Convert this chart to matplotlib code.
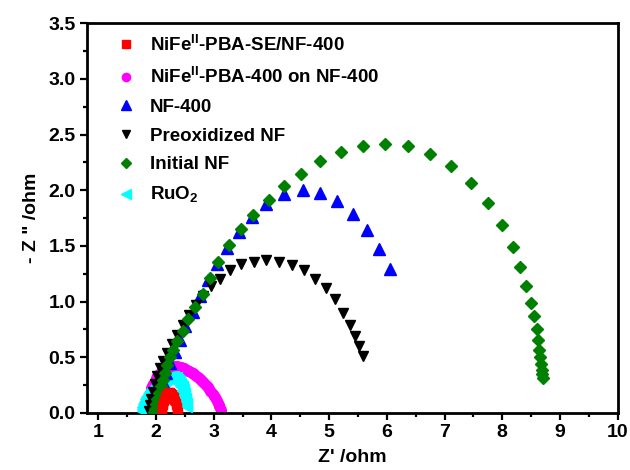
import matplotlib
matplotlib.use('Agg')
import matplotlib.pyplot as plt
from matplotlib.ticker import MultipleLocator, FormatStrFormatter

plt.rcParams['font.family'] = ['Liberation Sans', 'DejaVu Sans']
plt.rcParams['font.weight'] = 'bold'
plt.rcParams['mathtext.fontset'] = 'custom'
plt.rcParams['mathtext.rm'] = 'Liberation Sans'
plt.rcParams['mathtext.bf'] = 'Liberation Sans:bold'

# NiFe(II)-PBA-SE/NF-400 (red squares)
se_x = [2.10, 2.105, 2.11, 2.12, 2.13, 2.14, 2.15, 2.165, 2.18, 2.195, 2.21, 2.225, 2.24, 2.255, 2.27,
        2.285, 2.30, 2.31, 2.32, 2.33, 2.34, 2.35, 2.36, 2.37, 2.38]
se_y = [0.01, 0.03, 0.05, 0.07, 0.09, 0.11, 0.13, 0.145, 0.16, 0.17, 0.18, 0.185, 0.185, 0.18, 0.175,
        0.165, 0.15, 0.14, 0.12, 0.11, 0.09, 0.07, 0.05, 0.03, 0.01]

# NiFe(II)-PBA-400 on NF-400 (magenta circles)
pba_x = [1.86, 1.865, 1.87, 1.88, 1.89, 1.90, 1.91, 1.92, 1.935, 1.95, 1.965, 1.98, 2.00, 2.02, 2.04,
         2.06, 2.08, 2.10, 2.12, 2.14, 2.16, 2.18, 2.20, 2.22, 2.24, 2.26, 2.28, 2.30, 2.32, 2.34,
         2.36, 2.38, 2.40, 2.42, 2.44, 2.46, 2.48, 2.50, 2.52, 2.54, 2.56, 2.58, 2.60, 2.62, 2.64,
         2.66, 2.68, 2.70, 2.72, 2.74, 2.76, 2.78, 2.80, 2.82, 2.84, 2.86, 2.88, 2.90, 2.92, 2.94,
         2.96, 2.98, 3.00, 3.02, 3.04, 3.06, 3.075, 3.09, 3.10, 3.11, 3.12]
pba_y = [0.08, 0.10, 0.12, 0.14, 0.16, 0.18, 0.20, 0.22, 0.24, 0.26, 0.27, 0.29, 0.31, 0.33, 0.34,
         0.35, 0.365, 0.375, 0.385, 0.395, 0.40, 0.405, 0.41, 0.415, 0.415, 0.42, 0.42, 0.42, 0.42, 0.42,
         0.42, 0.415, 0.415, 0.41, 0.41, 0.405, 0.40, 0.395, 0.39, 0.385, 0.38, 0.375, 0.37, 0.36, 0.355,
         0.35, 0.34, 0.33, 0.325, 0.315, 0.305, 0.295, 0.285, 0.275, 0.265, 0.255, 0.24, 0.23, 0.215, 0.20,
         0.185, 0.17, 0.155, 0.14, 0.125, 0.11, 0.09, 0.075, 0.06, 0.045, 0.03]

# NF-400 (blue triangles)
nf400_x = [1.95, 1.97, 2.00, 2.03, 2.07, 2.12, 2.18, 2.25, 2.33, 2.42, 2.51, 2.64, 2.77, 2.91, 3.05,
           3.23, 3.44, 3.67, 3.91, 4.21, 4.54, 4.84, 5.14, 5.42, 5.66, 5.87, 6.05]
nf400_y = [0.02, 0.05, 0.10, 0.15, 0.21, 0.28, 0.36, 0.45, 0.55, 0.66, 0.78, 0.91, 1.05, 1.19, 1.34,
           1.48, 1.63, 1.76, 1.88, 1.97, 2.00, 1.98, 1.90, 1.79, 1.64, 1.47, 1.29]

# Preoxidized NF (black down triangles)
pre_x = [1.88, 1.90, 1.92, 1.95, 1.98, 2.02, 2.07, 2.13, 2.20, 2.28, 2.37, 2.47, 2.58, 2.70, 2.82, 2.96,
         3.11, 3.29, 3.48, 3.70, 3.91, 4.14, 4.36, 4.56, 4.76, 4.95, 5.11, 5.24, 5.36, 5.44, 5.52, 5.59]
pre_y = [0.02, 0.07, 0.13, 0.19, 0.26, 0.33, 0.40, 0.47, 0.54, 0.62, 0.70, 0.79, 0.88, 0.97, 1.05, 1.14,
         1.20, 1.28, 1.34, 1.36, 1.37, 1.36, 1.33, 1.28, 1.20, 1.12, 1.02, 0.90, 0.79, 0.69, 0.60, 0.51]

# Initial NF (green diamonds)
ini_x = [1.97, 1.98, 2.00, 2.02, 2.05, 2.08, 2.12, 2.16, 2.20, 2.25, 2.30, 2.37, 2.46, 2.56, 2.68, 2.81,
         2.93, 3.08, 3.27, 3.48, 3.69, 3.95, 4.21, 4.52, 4.84, 5.20, 5.58, 5.97, 6.36, 6.75, 7.11, 7.46,
         7.75, 7.99, 8.18, 8.31, 8.41, 8.49, 8.55, 8.60, 8.62, 8.64, 8.66, 8.67, 8.68, 8.69, 8.70]
ini_y = [0.01, 0.04, 0.08, 0.13, 0.18, 0.24, 0.30, 0.36, 0.43, 0.50, 0.57, 0.65, 0.74, 0.84, 0.95, 1.07,
         1.21, 1.36, 1.51, 1.65, 1.78, 1.91, 2.04, 2.15, 2.26, 2.34, 2.40, 2.42, 2.40, 2.33, 2.22, 2.07,
         1.89, 1.69, 1.49, 1.31, 1.14, 0.99, 0.87, 0.75, 0.66, 0.57, 0.50, 0.44, 0.39, 0.35, 0.31]

# RuO2 (cyan left triangles)
ru_x = [1.77, 1.775, 1.78, 1.79, 1.80, 1.81, 1.82, 1.835, 1.85, 1.865, 1.88, 1.90, 1.92, 1.94, 1.96,
        1.98, 2.00, 2.02, 2.04, 2.06, 2.08, 2.10, 2.12, 2.14, 2.16, 2.18, 2.20, 2.22, 2.24, 2.26,
        2.28, 2.30, 2.32, 2.34, 2.36, 2.38, 2.40, 2.42, 2.435, 2.45, 2.46, 2.47, 2.48, 2.49, 2.50,
        2.51, 2.515, 2.52]
ru_y = [0.02, 0.035, 0.05, 0.065, 0.08, 0.095, 0.11, 0.125, 0.14, 0.155, 0.17, 0.185, 0.20, 0.215, 0.225,
        0.235, 0.245, 0.255, 0.265, 0.275, 0.28, 0.29, 0.295, 0.30, 0.305, 0.31, 0.315, 0.32, 0.32, 0.32,
        0.32, 0.32, 0.315, 0.31, 0.30, 0.29, 0.275, 0.26, 0.245, 0.23, 0.21, 0.19, 0.17, 0.15, 0.13,
        0.11, 0.085, 0.06]

fig = plt.figure(figsize=(6.3, 4.7), dpi=100)
ax = fig.add_axes([0.1376, 0.1213, 0.8429, 0.8291])

ax.plot(pba_x, pba_y, 'o', color='#ff00ff', ms=7, mec='#ff00ff', ls='none',
        label=r'NiFe$^{\mathrm{II}}$-PBA-400 on NF-400', zorder=2)
ax.plot(ru_x, ru_y, '<', color='#00ffff', ms=8, mec='#00ffff', ls='none', label=r'RuO$_2$', zorder=3)
ax.plot(nf400_x, nf400_y, '^', color='#0000ff', ms=8, mec='#0000ff', ls='none', label='NF-400', zorder=4)
ax.plot(pre_x, pre_y, 'v', color='black', ms=7.5, mec='black', ls='none', label='Preoxidized NF', zorder=5)
ax.plot(ini_x, ini_y, 'D', color='#008000', ms=6.5, mec='#008000', ls='none', label='Initial NF', zorder=6)
ax.plot(se_x, se_y, 's', color='#ff0000', ms=6, mec='#ff0000', ls='none',
        label=r'NiFe$^{\mathrm{II}}$-PBA-SE/NF-400', zorder=7)

ax.set_xlim(0.8, 10)
ax.set_ylim(0, 3.5)
ax.xaxis.set_major_locator(MultipleLocator(1))
ax.xaxis.set_minor_locator(MultipleLocator(0.5))
ax.yaxis.set_major_locator(MultipleLocator(0.5))
ax.yaxis.set_minor_locator(MultipleLocator(0.25))
ax.yaxis.set_major_formatter(FormatStrFormatter('%.1f'))

for s in ax.spines.values():
    s.set_linewidth(2)
ax.tick_params(which='major', direction='out', length=5, width=1.6, labelsize=14, pad=3)
ax.tick_params(which='minor', direction='out', length=3, width=1.6)

ax.set_xlabel("Z' /ohm", fontsize=14, fontweight='bold', labelpad=6)
ax.set_ylabel('- Z " /ohm', fontsize=14, fontweight='bold', labelpad=6)

# legend in the order of the reference
handles, labels = ax.get_legend_handles_labels()
order = [5, 0, 2, 3, 4, 1]
ax.legend([handles[i] for i in order], [labels[i] for i in order],
          loc='upper left', bbox_to_anchor=(117 / 630, 1 - 34 / 470), bbox_transform=fig.transFigure,
          frameon=False, fontsize=13.5, handlelength=1.0, handletextpad=0.75,
          labelspacing=0.62, borderpad=0, borderaxespad=0, markerscale=0.85)

fig.savefig('out.png', dpi=100)
